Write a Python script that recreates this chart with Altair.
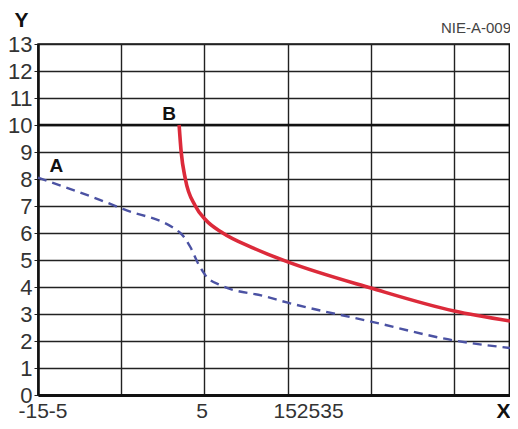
import pandas as pd
import altair as alt

# curve B, solid red
b_x = [1.95, 2.2, 2.7, 3.9, 5.1, 7.2, 10.8, 15, 25, 35, 41.7]
b_y = [10, 9.0, 8.0, 7.0, 6.5, 6.0, 5.45, 4.93, 3.96, 3.11, 2.74]

# curve A, dashed blue
a_x = [-15, -7.5, -4.8, 2.1, 3.3, 4.2, 5.1, 6.9, 12.3, 15, 25, 35, 41.7]
a_y = [8.05, 7.22, 6.89, 6.0, 5.48, 4.89, 4.44, 4.07, 3.65, 3.42, 2.72, 2.02, 1.74]

x_grid = [-15, -5, 5, 15, 25, 35]
y_ticks = list(range(0, 14))
x_min, x_max = -15, 41.7

# tick labels as printed (crowded in the original)
lab_x = [-14.4, 4.7, 17.5]
lab_text = ["-15-5", "5", "152535"]

# curve letters
note_x = [-12.8, 0.75]
note_y = [8.48, 10.4]
note_text = ["A", "B"]

FONT = "Liberation Sans"

curve_b = pd.DataFrame({"x": b_x, "y": b_y})
curve_a = pd.DataFrame({"x": a_x, "y": a_y})
labels = pd.DataFrame({"x": lab_x, "t": lab_text})
notes = pd.DataFrame({"x": note_x, "y": note_y, "t": note_text})

xs = alt.Scale(domain=[x_min, x_max], nice=False, zero=False)
ys = alt.Scale(domain=[0, 13], nice=False)

x_enc = alt.X("x:Q", scale=xs, axis=alt.Axis(
    values=x_grid, grid=True, labels=False, ticks=False,
    domainColor="#111", domainWidth=3, gridColor="#222", gridWidth=1.4,
    title="X", titleAngle=0, titleX=465, titleY=16, titleAlign="center",
    titleBaseline="middle", titleFontSize=21, titleFont=FONT,
    titleFontWeight="bold", titleColor="#111"))
y_enc = alt.Y("y:Q", scale=ys, axis=alt.Axis(
    values=y_ticks, grid=True, tickSize=4, tickColor="#222", labelOverlap=False,
    labelFontSize=22, labelFont=FONT, labelColor="#333", labelPadding=2,
    domainColor="#111", domainWidth=2.5, gridColor="#222", gridWidth=1.4,
    title="Y", titleAngle=0, titleX=-17, titleY=-24, titleAlign="center",
    titleBaseline="middle", titleFontSize=21, titleFont=FONT,
    titleFontWeight="bold", titleColor="#111"))

ten_line = alt.Chart(pd.DataFrame({"y": [10]})).mark_rule(
    color="#111", strokeWidth=2.6
).encode(y=y_enc)

right_edge = alt.Chart(pd.DataFrame({"x": [x_max]})).mark_rule(
    color="#111", strokeWidth=2.8
).encode(x=x_enc)

blue = alt.Chart(curve_a).mark_line(
    color="#4b52a3", strokeWidth=2.4, strokeDash=[9, 6], interpolate="monotone"
).encode(x=x_enc, y=y_enc)

red = alt.Chart(curve_b).mark_line(
    color="#dc2a3a", strokeWidth=3.6, interpolate="monotone"
).encode(x=x_enc, y=y_enc)

tick_labels = alt.Chart(labels).mark_text(
    fontSize=21, font=FONT, color="#333", baseline="middle"
).encode(x=x_enc, y=alt.value(368), text="t:N")

letters = alt.Chart(notes).mark_text(
    fontSize=19, font=FONT, fontWeight="bold", color="#111"
).encode(x=x_enc, y=y_enc, text="t:N")

code = alt.Chart(pd.DataFrame({"t": ["NIE-A-009"]})).mark_text(
    fontSize=15, font=FONT, color="#444", align="right", baseline="middle"
).encode(x=alt.value(473), y=alt.value(-16), text="t:N")

chart = alt.layer(ten_line, right_edge, blue, red, tick_labels, letters, code).properties(
    width=472, height=351,
    autosize=alt.AutoSizeParams(type="none"),
    padding={"left": 30, "top": 36, "right": 0, "bottom": 26},
).configure_view(stroke="#111", strokeWidth=1.5)

chart.save("out.html", embed_options={"renderer": "svg", "actions": False})
